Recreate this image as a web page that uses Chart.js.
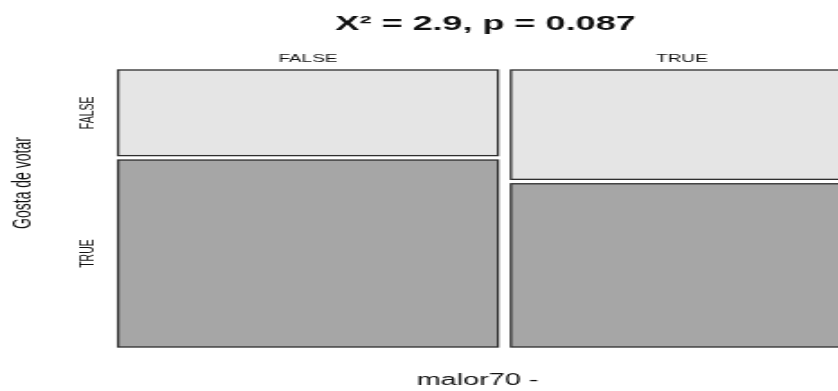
<!DOCTYPE html>
<html>
<head>
<meta charset="utf-8">
<script src="https://cdn.jsdelivr.net/npm/chart.js@4/dist/chart.umd.min.js"></script>
<style>
  html, body { margin: 0; padding: 0; background: #fff; overflow: hidden; width: 838px; height: 391px; }
  /* the drawing is laid out on a narrow canvas and widened by CSS */
  #mosaic { display: block; width: 972px !important; height: 391px !important; }
</style>
</head>
<body>
<canvas id="mosaic" width="540" height="391" style="width:972px;height:391px"></canvas>
<script>
// malor70 (columns) by "Gosta de votar" (rows)
const colLabels = ['FALSE', 'TRUE'];
const rowLabels = ['FALSE', 'TRUE'];
const countsRowFalse = [60, 69];
const countsRowTrue = [131, 103];
const titleText = 'X\u00b2 = 2.9, p = 0.087';
const xTitle = 'malor70 -';
const yTitle = 'Gosta de votar';

// tile spacing as a share of each axis
const COL_GAP = 0.0176;
const ROW_GAP = 0.016;
const FILL_ROW = ['#e5e5e5', '#a6a6a6'];
const EDGE = '#2e2e2e';

const colTotals = colLabels.map((_, i) => countsRowFalse[i] + countsRowTrue[i]);
const grandTotal = colTotals.reduce((a, b) => a + b, 0);

// tile extents in scale units (x: 0..1 left→right, y: 0..1 top→bottom)
const tiles = [];
let x0 = 0;
colLabels.forEach((c, i) => {
  const w = (1 - COL_GAP * (colLabels.length - 1)) * colTotals[i] / grandTotal;
  const rows = [countsRowFalse[i], countsRowTrue[i]];
  let y0 = 0;
  rows.forEach((n, j) => {
    const h = (1 - ROW_GAP * (rows.length - 1)) * n / colTotals[i];
    tiles.push({ col: i, row: j, x0, x1: x0 + w, y0, y1: y0 + h });
    y0 += h + ROW_GAP;
  });
  x0 += w + COL_GAP;
});
const colCenters = colLabels.map((_, i) => {
  const t = tiles.filter(d => d.col === i)[0];
  return (t.x0 + t.x1) / 2;
});

const mosaicTiles = {
  id: 'mosaicTiles',
  beforeDatasetsDraw(chart) {
    const { ctx, scales: { x, y } } = chart;
    ctx.save();
    tiles.forEach(t => {
      const px0 = x.getPixelForValue(t.x0), px1 = x.getPixelForValue(t.x1);
      const py0 = y.getPixelForValue(t.y0), py1 = y.getPixelForValue(t.y1);
      ctx.fillStyle = FILL_ROW[t.row];
      ctx.fillRect(px0, py0, px1 - px0, py1 - py0);
      ctx.lineWidth = 1.3;
      ctx.strokeStyle = EDGE;
      ctx.strokeRect(px0, py0, px1 - px0, py1 - py0);
    });
    ctx.restore();
  }
};

// vertical labels on the left: row names and the row variable
const rowAxisText = {
  id: 'rowAxisText',
  afterDraw(chart) {
    const { ctx, chartArea, scales: { y } } = chart;
    ctx.save();
    ctx.fillStyle = '#111';
    ctx.textAlign = 'center';
    ctx.textBaseline = 'middle';
    ctx.font = '10.5px "Liberation Sans", Arial, sans-serif';
    tiles.filter(t => t.col === 0).forEach(t => {
      ctx.save();
      ctx.translate(chartArea.left - 16, y.getPixelForValue((t.y0 + t.y1) / 2));
      ctx.rotate(-Math.PI / 2);
      ctx.fillText(rowLabels[t.row], 0, 0);
      ctx.restore();
    });
    ctx.font = '14px "Liberation Sans", Arial, sans-serif';
    ctx.translate(chartArea.left - 52.5, chartArea.top + 113);
    ctx.rotate(-Math.PI / 2);
    ctx.fillText(yTitle, 0, 0);
    ctx.restore();
  }
};

new Chart(document.getElementById('mosaic'), {
  type: 'scatter',
  data: { datasets: [{ data: [], pointRadius: 0 }] },
  options: {
    responsive: false,
    animation: false,
    devicePixelRatio: 1,
    layout: { padding: { left: 65.6, right: 66.1, top: 0, bottom: 0 } },
    plugins: {
      legend: { display: false },
      tooltip: { enabled: false },
      title: {
        display: true,
        text: titleText,
        color: '#111',
        font: { family: '"Liberation Sans", Arial, sans-serif', size: 20, weight: 'bold' },
        padding: { top: 12, bottom: 0 }
      }
    },
    scales: {
      x: {
        type: 'linear', position: 'top', min: 0, max: 1,
        grid: { display: false, drawTicks: false },
        border: { display: false },
        afterBuildTicks: s => { s.ticks = colCenters.map(v => ({ value: v })); },
        afterFit: s => { s.height = 34; },
        ticks: {
          autoSkip: false, maxRotation: 0, minRotation: 0, padding: 5,
          color: '#111',
          font: { family: '"Liberation Sans", Arial, sans-serif', size: 10.5 },
          callback: (v, i) => colLabels[i]
        }
      },
      x2: {
        type: 'linear', position: 'bottom', min: 0, max: 1,
        grid: { display: false, drawTicks: false },
        border: { display: false },
        ticks: { display: false },
        afterFit: s => { s.height = 44; },
        title: {
          display: true, text: xTitle + '  ', color: '#111',
          font: { family: '"Liberation Sans", Arial, sans-serif', size: 16 },
          padding: { top: 0, bottom: 0.4 }
        }
      },
      y: {
        type: 'linear', min: 0, max: 1, reverse: true, display: false
      }
    }
  },
  plugins: [mosaicTiles, rowAxisText]
});
</script>
</body>
</html>
